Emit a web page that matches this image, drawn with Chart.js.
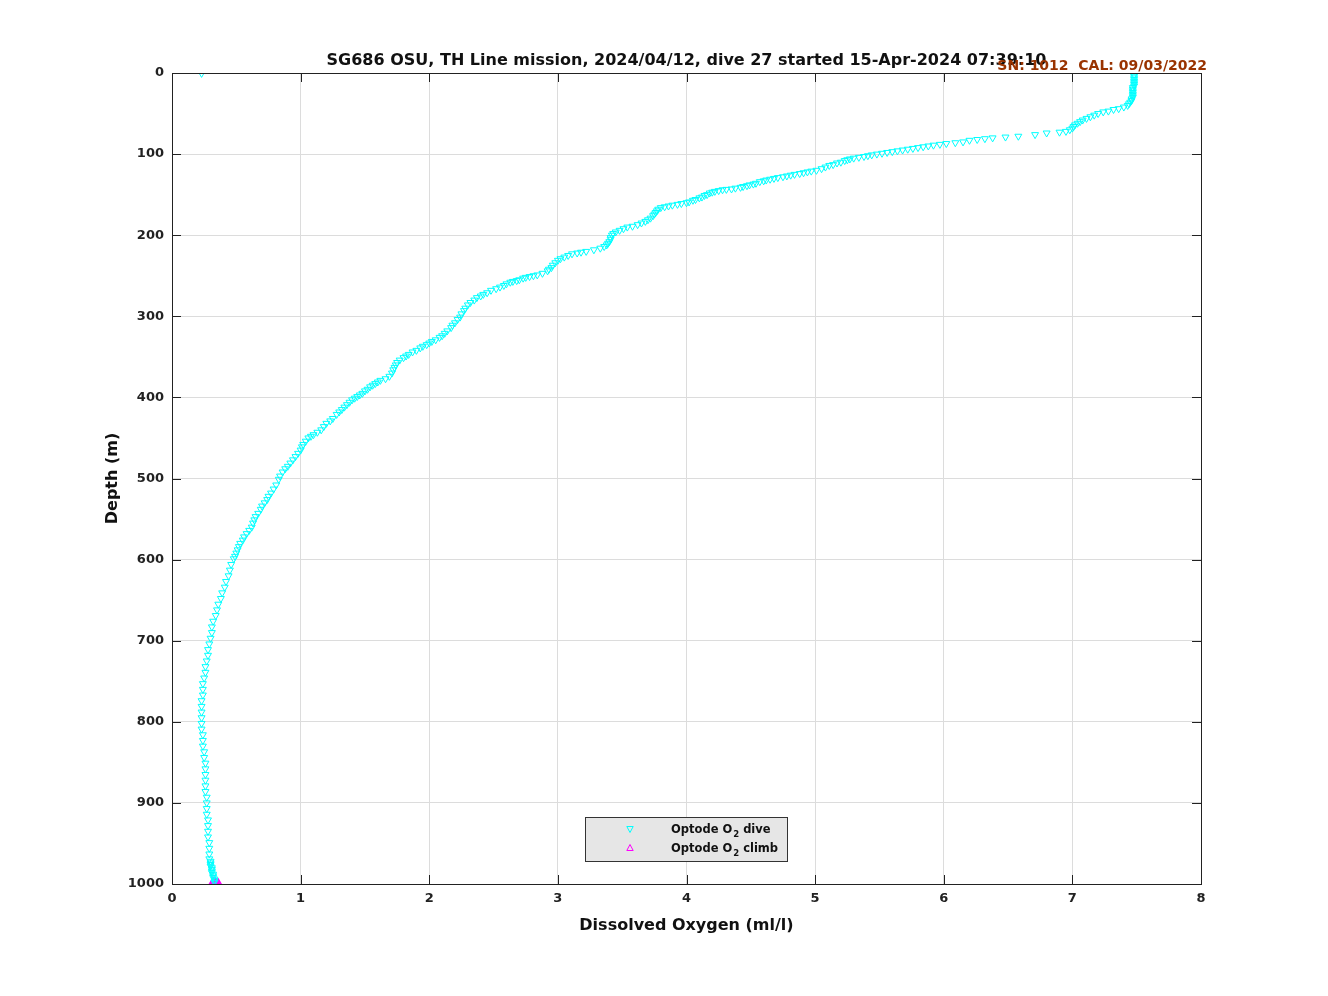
<!DOCTYPE html>
<html>
<head>
<meta charset="utf-8">
<script src="https://cdn.jsdelivr.net/npm/chart.js@4"></script>
<style>
  body { margin: 0; background: #fff; }
  canvas { display: block; }
</style>
</head>
<body>
<canvas id="o2Chart" width="1328" height="996"></canvas>
<script>
// Optode O2 profile (ml/l vs depth m)
const diveO2 = [0.23,
    7.48, 7.48, 7.48, 7.48, 7.48, 7.48, 7.48, 7.48, 7.47, 7.47, 7.47, 7.47, 7.47, 7.47, 7.47, 7.46, 7.46, 7.45, 7.44,
    7.43, 7.40, 7.36, 7.32, 7.28, 7.24, 7.20, 7.17, 7.14, 7.11, 7.08, 7.06, 7.04, 7.02, 7.01, 7.00, 6.98, 6.95, 6.90,
    6.80, 6.71, 6.58, 6.48, 6.38, 6.32, 6.26, 6.20, 6.15, 6.09, 6.02,
    5.97, 5.92, 5.88, 5.84, 5.80, 5.76, 5.72, 5.68, 5.64, 5.60, 5.56, 5.52, 5.48, 5.44, 5.41, 5.38, 5.34, 5.30, 5.27, 5.25,
    5.23, 5.20, 5.17, 5.14, 5.11, 5.08, 5.05, 5.01, 4.97, 4.94, 4.91, 4.88, 4.84, 4.81, 4.78, 4.75, 4.71, 4.68, 4.65, 4.62,
    4.60, 4.57, 4.54, 4.52, 4.49, 4.47, 4.44, 4.42, 4.38, 4.35, 4.31, 4.28, 4.25, 4.22, 4.20, 4.18, 4.16, 4.14, 4.12, 4.10,
    4.07, 4.05, 4.02, 4.00, 3.96, 3.93, 3.89, 3.86, 3.83, 3.80, 3.78, 3.77, 3.76, 3.75, 3.74, 3.72, 3.70, 3.68, 3.65, 3.62,
    3.58, 3.54, 3.51, 3.48, 3.45, 3.43, 3.42, 3.41, 3.41, 3.40, 3.39, 3.38, 3.36, 3.33, 3.28, 3.22, 3.18, 3.15, 3.11, 3.08,
    3.05, 3.02, 3.00, 2.98, 2.96, 2.95, 2.93, 2.92, 2.88, 2.84, 2.81, 2.78, 2.75, 2.73, 2.70, 2.68, 2.65, 2.63, 2.60, 2.58,
    2.55, 2.52, 2.48, 2.45, 2.42, 2.40, 2.37, 2.35, 2.32, 2.30, 2.28, 2.27, 2.25, 2.24, 2.22, 2.20, 2.18, 2.17, 2.14, 2.12,
    2.10, 2.08, 2.05, 2.02, 2.00, 1.98, 1.95, 1.93, 1.90, 1.87, 1.84, 1.82, 1.80, 1.77, 1.75, 1.74, 1.73, 1.72, 1.71, 1.69,
    1.66, 1.62, 1.60, 1.58, 1.56, 1.54, 1.52, 1.50, 1.48, 1.46, 1.44, 1.42, 1.40, 1.38, 1.36, 1.34, 1.32, 1.30, 1.28, 1.25,
    1.23, 1.20, 1.18, 1.16, 1.13, 1.10, 1.08, 1.06, 1.04, 1.02, 1.01, 1.00, 0.98, 0.96, 0.94, 0.92, 0.90, 0.88, 0.86, 0.84,
    0.83, 0.81, 0.79, 0.77, 0.75, 0.74, 0.72, 0.70, 0.69, 0.67, 0.65, 0.64, 0.63, 0.62, 0.60, 0.58, 0.56, 0.55, 0.53, 0.52,
    0.51, 0.50, 0.49, 0.48,
    0.46, 0.45, 0.44, 0.42, 0.41, 0.39, 0.38, 0.36, 0.35, 0.34, 0.32, 0.31, 0.31, 0.30, 0.29, 0.28, 0.28, 0.27, 0.26, 0.26,
    0.25, 0.24, 0.24, 0.24, 0.23, 0.23, 0.23, 0.23, 0.23, 0.23, 0.24, 0.24, 0.24, 0.25, 0.25, 0.26, 0.26, 0.26, 0.26, 0.26,
    0.26, 0.27, 0.27, 0.27, 0.27, 0.28, 0.28, 0.28, 0.28, 0.29, 0.29, 0.29, 0.29,
    0.30, 0.30, 0.30, 0.30, 0.31, 0.31, 0.31, 0.31, 0.32, 0.32, 0.32, 0.33, 0.33, 0.33];
const diveDepth = [0.5,
    2, 4, 6, 8, 10, 12, 14, 16, 18, 20, 22, 24, 26, 28, 30, 32, 34, 36, 38,
    40, 42, 44, 45, 47, 48, 50, 52, 54, 56, 58, 60, 62, 64, 66, 68, 70, 72, 73,
    74, 76, 78, 79, 80, 81, 82, 83, 85, 86, 87,
    88, 89, 90, 91, 92, 93, 94, 95, 96, 97, 98, 99, 100, 101, 102, 103, 104, 105, 106, 107,
    108, 110, 111, 113, 114, 116, 118, 120, 121, 122, 123, 124, 125, 126, 127, 128, 129, 130, 131, 132,
    133, 134, 136, 137, 138, 139, 140, 141, 142, 143, 143.5, 144, 145, 146, 147, 148, 150, 151, 153, 154,
    156, 157, 159, 160, 161, 162, 163, 164, 165, 166, 168, 170, 172, 174, 176, 179, 181, 183, 185, 187,
    189, 190, 192, 194, 196, 198, 200, 203, 205, 208, 210, 212, 214, 216, 218, 220, 221, 222, 223, 225,
    227, 229, 231, 234, 237, 240, 242, 244, 247, 249, 250, 251, 252, 253, 255, 256, 257, 258, 260, 262,
    264, 266, 268, 271, 273, 275, 277, 280, 283, 286, 290, 293, 297, 301, 304, 308, 311, 314, 318, 321,
    324, 326, 329, 331, 333, 335, 337, 339, 342, 344, 347, 349, 351, 354, 357, 360, 363, 366, 370, 374,
    377, 379, 381, 383, 385, 387, 390, 392, 395, 397, 399, 401, 403, 406, 409, 412, 415, 418, 421, 426,
    429, 432, 436, 440, 443, 446, 448, 450, 454, 458, 461, 465, 469, 473, 477, 481, 485, 488, 492, 497,
    501, 508, 513, 518, 522, 526, 530, 534, 538, 543, 547, 551, 555, 560, 564, 568, 572, 576, 580, 584,
    588, 592, 596, 599,
    606, 613, 620, 627, 634, 641, 648, 655, 662, 669, 676, 683, 690, 697, 704, 711, 718, 725, 732, 739,
    746, 753, 760, 767, 774, 781, 788, 795, 802, 809, 816, 823, 830, 837, 844, 851, 858, 865, 872, 879,
    886, 893, 900, 907, 914, 921, 928, 935, 942, 949, 956, 963, 969,
    972, 974, 976, 978, 980, 982, 984, 986, 988, 990, 992, 994, 996, 998];
const climbO2 = [0.32, 0.33, 0.33, 0.34, 0.34, 0.35, 0.35, 0.36, 0.34, 0.33];
const climbDepth = [997, 998, 1000, 998, 1000, 999, 1000, 999, 999, 999];

const xTicks = [0, 1, 2, 3, 4, 5, 6, 7, 8];
const yTicks = [0, 100, 200, 300, 400, 500, 600, 700, 800, 900, 1000];

const titleText = 'SG686 OSU, TH Line mission, 2024/04/12, dive 27 started 15-Apr-2024 07:39:10';
const calText = 'SN: 1012  CAL: 09/03/2022';
const FONT = "'DejaVu Sans', sans-serif";

const toPoints = (xs, ys) => xs.map((v, i) => ({ x: v, y: ys[i] }));

// frame, inward ticks, titles and legend drawn on top like the MATLAB figure
const decorations = {
    id: 'decorations',
    afterDraw(chart) {
        const { ctx, chartArea: a, scales } = chart;
        const tl = 9;
        ctx.save();
        ctx.strokeStyle = '#222';
        ctx.lineWidth = 1;
        ctx.strokeRect(a.left + 0.5, a.top + 0.5, a.right - a.left, a.bottom - a.top);
        ctx.beginPath();
        xTicks.forEach(t => {
            const px = Math.round(scales.x.getPixelForValue(t)) + 0.5;
            ctx.moveTo(px, a.top); ctx.lineTo(px, a.top + tl);
            ctx.moveTo(px, a.bottom); ctx.lineTo(px, a.bottom - tl);
        });
        yTicks.forEach(t => {
            const py = Math.round(scales.y.getPixelForValue(t)) + 0.5;
            ctx.moveTo(a.left, py); ctx.lineTo(a.left + tl, py);
            ctx.moveTo(a.right, py); ctx.lineTo(a.right - tl, py);
        });
        ctx.stroke();

        ctx.fillStyle = '#111';
        ctx.textAlign = 'center';
        ctx.textBaseline = 'alphabetic';
        ctx.font = `bold 16px ${FONT}`;
        ctx.fillText(titleText, (a.left + a.right) / 2, 65);
        ctx.fillText('Dissolved Oxygen (ml/l)', (a.left + a.right) / 2, 930);
        ctx.save();
        ctx.translate(117, (a.top + a.bottom) / 2);
        ctx.rotate(-Math.PI / 2);
        ctx.fillText('Depth (m)', 0, 0);
        ctx.restore();

        ctx.fillStyle = '#993300';
        ctx.textAlign = 'right';
        ctx.font = `bold 14px ${FONT}`;
        ctx.fillText(calText, 1207, 70);

        // legend box
        const lx = 585, ly = 817, lw = 202, lh = 44;
        ctx.fillStyle = '#e6e6e6';
        ctx.fillRect(lx, ly, lw, lh);
        ctx.strokeStyle = '#333';
        ctx.strokeRect(lx + 0.5, ly + 0.5, lw, lh);
        const rows = [
            { color: '#00ffff', rot: Math.PI, y: 829, tail: ' dive' },
            { color: '#ff00ff', rot: 0, y: 848, tail: ' climb' }
        ];
        rows.forEach(r => {
            ctx.save();
            ctx.translate(630, r.y);
            ctx.rotate(r.rot);
            ctx.beginPath();
            ctx.moveTo(0, -3.5); ctx.lineTo(3.2, 2.5); ctx.lineTo(-3.2, 2.5); ctx.closePath();
            ctx.strokeStyle = r.color;
            ctx.lineWidth = 1;
            ctx.stroke();
            ctx.restore();
            ctx.fillStyle = '#111';
            ctx.textAlign = 'left';
            ctx.font = `bold 11.5px ${FONT}`;
            let x = 671;
            const base = r.y + 4;
            ctx.fillText('Optode O', x, base);
            x += ctx.measureText('Optode O').width;
            ctx.font = `bold 8.5px ${FONT}`;
            ctx.fillText('2', x + 1, base + 4);
            x += ctx.measureText('2').width + 1;
            ctx.font = `bold 11.5px ${FONT}`;
            ctx.fillText(r.tail, x, base);
        });
        ctx.restore();
    }
};

new Chart(document.getElementById('o2Chart').getContext('2d'), {
    type: 'scatter',
    data: {
        datasets: [{
            label: 'Optode O2 dive',
            data: toPoints(diveO2, diveDepth),
            pointStyle: 'triangle',
            rotation: 180,
            pointRadius: 4,
            borderColor: '#00ffff',
            backgroundColor: 'rgba(0,0,0,0)',
            borderWidth: 1
        }, {
            label: 'Optode O2 climb',
            data: toPoints(climbO2, climbDepth),
            pointStyle: 'triangle',
            pointRadius: 4,
            borderColor: '#ff00ff',
            backgroundColor: 'rgba(0,0,0,0)',
            borderWidth: 1.5
        }]
    },
    options: {
        responsive: false,
        animation: false,
        layout: { padding: { left: 0, top: 73, right: 127, bottom: 72 } },
        plugins: {
            legend: { display: false },
            tooltip: { enabled: false }
        },
        scales: {
            x: {
                type: 'linear',
                min: 0, max: 8,
                afterFit: s => { s.height = 40; },
                afterBuildTicks: s => { s.ticks = xTicks.map(v => ({ value: v })); },
                grid: { color: '#dcdcdc', drawTicks: false },
                border: { display: false },
                ticks: { color: '#222', padding: 7, font: { family: FONT, size: 13, weight: 'bold' },
                    callback: v => String(v) }
            },
            y: {
                type: 'linear',
                reverse: true,
                min: 0, max: 1000,
                afterFit: s => { s.width = 172; },
                afterBuildTicks: s => { s.ticks = yTicks.map(v => ({ value: v })); },
                grid: { color: '#dcdcdc', drawTicks: false },
                border: { display: false },
                ticks: { color: '#222', padding: 8, font: { family: FONT, size: 13, weight: 'bold' },
                    callback: v => String(v) }
            }
        }
    },
    plugins: [decorations]
});
</script>
</body>
</html>
